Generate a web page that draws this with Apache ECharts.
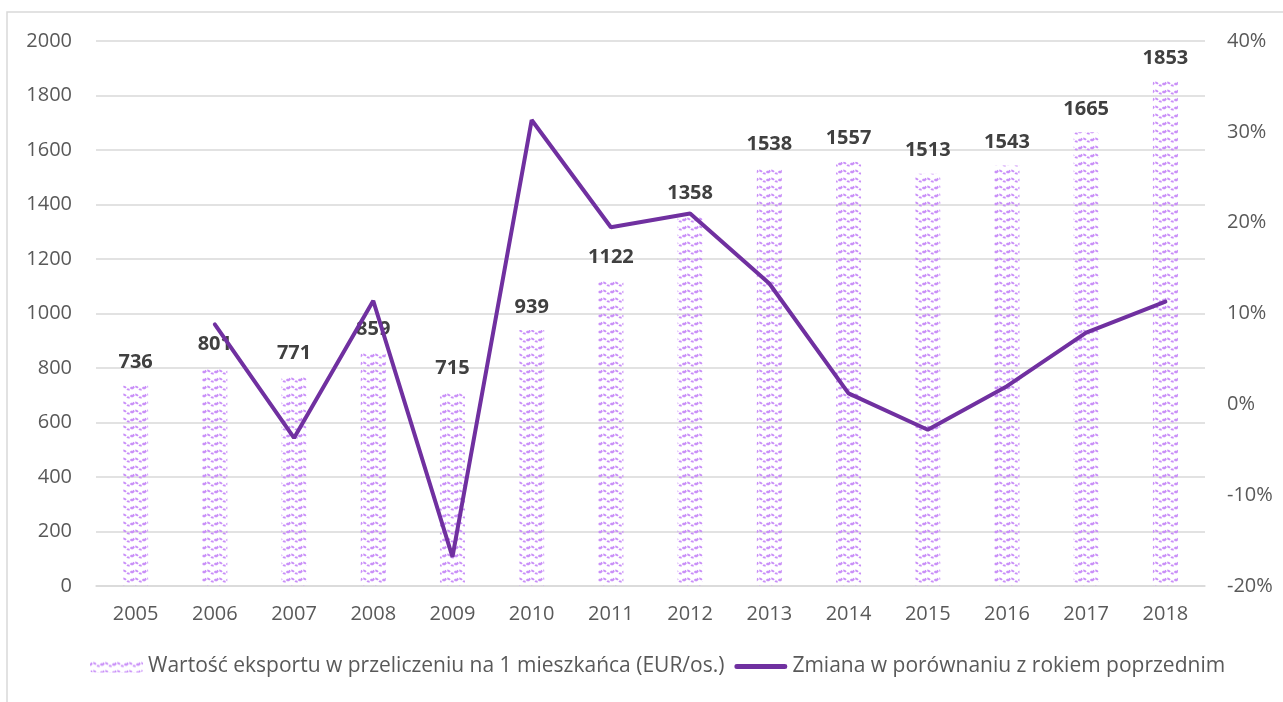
<!DOCTYPE html>
<html>
<head>
<meta charset="utf-8">
<script src="https://cdn.jsdelivr.net/npm/echarts@6/dist/echarts.min.js"></script>
<style>
  html, body { margin: 0; padding: 0; background: #fff; }
  #chart { width: 1283px; height: 702px; }
</style>
</head>
<body>
<div id="chart"></div>
<script>
// dane
const years = ['2005', '2006', '2007', '2008', '2009', '2010', '2011', '2012', '2013', '2014', '2015', '2016', '2017', '2018']
const exportPerCapita = [736, 801, 771, 859, 715, 939, 1122, 1358, 1538, 1557, 1513, 1543, 1665, 1853]
// zmiana r/r w %
const yearChange = [null, 8.8, -3.7, 11.4, -16.8, 31.3, 19.5, 21.0, 13.3, 1.2, -2.8, 2.0, 7.9, 11.3]

const barName = 'Wartość eksportu w przeliczeniu na 1 mieszkańca (EUR/os.)'
const lineName = 'Zmiana w porównaniu z rokiem poprzednim'

const FONT = '"Open Sans", sans-serif'

// ikona linii w legendzie (gruba kreska z zaokrąglonymi końcami)
const lineIcon = 'path://M0,0 L53,0 L53,0.01 Z M2.5,3.5 L50.5,3.5 A2.5,2.5 0 0 1 50.5,8.5 L2.5,8.5 A2.5,2.5 0 0 1 2.5,3.5 Z M0,12 L53,12 L53,12.01 Z'

// wzór falisty dla słupków
const makePattern = () => {
    const c = document.createElement('canvas')
    c.width = 12
    c.height = 8
    const ctx = c.getContext('2d')
    ctx.strokeStyle = '#c98ff8'
    ctx.lineWidth = 2
    ctx.setLineDash([3, 1.2])
    ctx.beginPath()
    ctx.moveTo(0, 5)
    ctx.quadraticCurveTo(3, 0.5, 6, 4)
    ctx.quadraticCurveTo(9, 7.5, 12, 3)
    ctx.stroke()
    return c
}

const chart = echarts.init(document.getElementById('chart'))
chart.setOption({
    animation: false,
    textStyle: { fontFamily: FONT },
    graphic: [{
        type: 'rect',
        shape: { x: 7, y: 12, width: 1300, height: 720 },
        style: { fill: 'none', stroke: '#d9d9d9', lineWidth: 1.5 },
        silent: true
    }],
    grid: { left: 96, right: 78, top: 41, bottom: 116 },
    legend: {
        left: 85,
        bottom: 20,
        itemGap: 10,
        itemWidth: 53,
        itemHeight: 12,
        textStyle: { fontSize: 21, color: '#595959', fontFamily: FONT },
        data: [barName, { name: lineName, icon: lineIcon, itemStyle: { color: '#7030a0' } }]
    },
    xAxis: {
        type: 'category',
        data: years,
        axisLine: { lineStyle: { color: '#d9d9d9', width: 1.5 } },
        axisTick: { show: false },
        axisLabel: { fontSize: 20, color: '#595959', margin: 18 }
    },
    yAxis: [{
        type: 'value',
        min: 0,
        max: 2000,
        interval: 200,
        axisLine: { show: false },
        axisTick: { show: false },
        splitLine: { lineStyle: { color: '#d9d9d9', width: 1.5 } },
        axisLabel: { fontSize: 20, color: '#595959', margin: 24, formatter: v => String(v) }
    }, {
        type: 'value',
        min: -20,
        max: 40,
        interval: 10,
        axisLine: { show: false },
        axisTick: { show: false },
        splitLine: { show: false },
        axisLabel: { fontSize: 20, color: '#595959', margin: 22, formatter: '{value}%' }
    }],
    series: [{
        name: barName,
        type: 'bar',
        data: exportPerCapita,
        barWidth: 25,
        itemStyle: { color: { image: makePattern(), repeat: 'repeat' } },
        label: {
            show: true,
            position: 'top',
            distance: 13,
            fontSize: 20,
            fontWeight: 'bold',
            color: '#404040'
        }
    }, {
        name: lineName,
        type: 'line',
        yAxisIndex: 1,
        data: yearChange,
        symbol: 'none',
        lineStyle: { color: '#7030a0', width: 4, cap: 'round' },
        itemStyle: { color: '#7030a0' }
    }]
})
</script>
</body>
</html>
